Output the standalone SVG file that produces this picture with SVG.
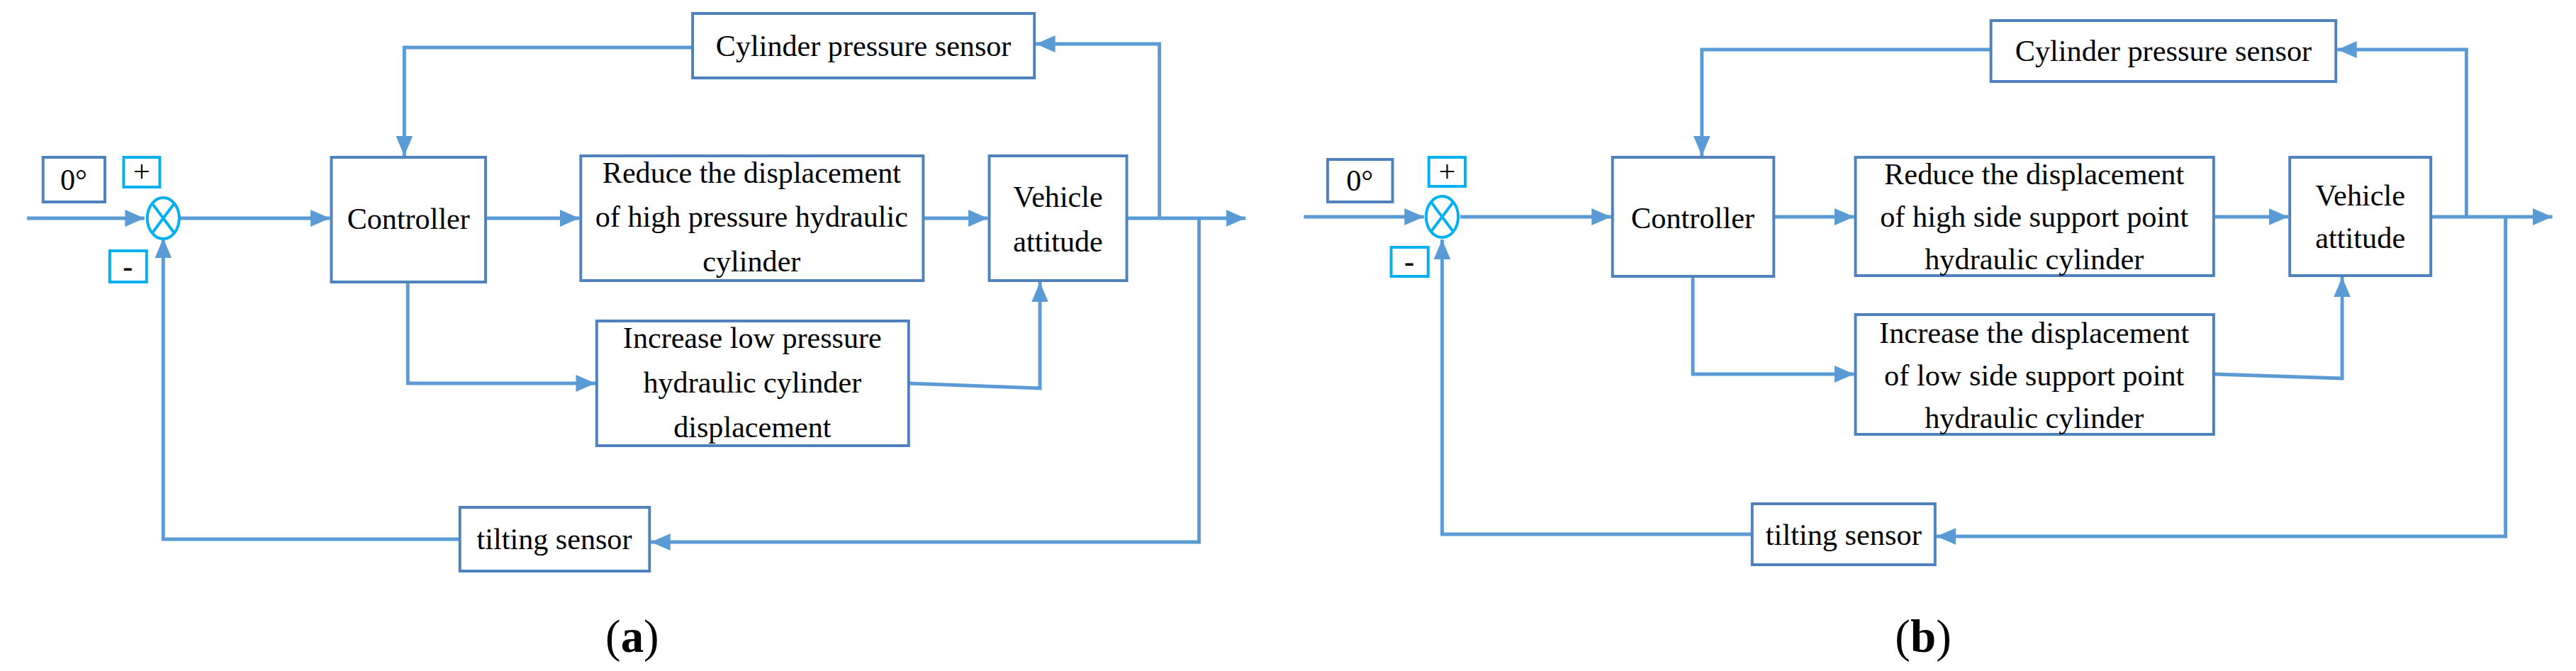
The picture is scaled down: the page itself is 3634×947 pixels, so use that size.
<svg xmlns="http://www.w3.org/2000/svg" width="3634" height="947" viewBox="0 0 3634 947">
<defs>
<marker id="ar" markerUnits="userSpaceOnUse" markerWidth="30" markerHeight="30" refX="28" refY="15" orient="auto"><path d="M0,3 L28,15 L0,27 Z" fill="#5B9BD5"/></marker>
<style>
.b{fill:#fff;stroke:#4F81BD;stroke-width:4}
.s{fill:#fff;stroke:#00B0F0;stroke-width:4}
.t{font-family:"Liberation Serif",serif;font-size:43px;fill:#000;text-anchor:middle}
.c{fill:none;stroke:#5B9BD5;stroke-width:5}
.l{font-family:"Liberation Serif",serif;font-size:66px;fill:#000;text-anchor:middle}
</style>
</defs>
<g id="connectors" class="c">
<g transform="matrix(0.98 0 0 1 0 0)">
<path d="M39,308 H208" marker-end="url(#ar)"/>
<path d="M257,308 H475" marker-end="url(#ar)"/>
<path d="M699,308 H834" marker-end="url(#ar)"/>
<path d="M1329,308 H1422" marker-end="url(#ar)"/>
<path d="M1622,308 H1793" marker-end="url(#ar)"/>
<path d="M1669,308 V62 H1491" marker-end="url(#ar)"/>
<path d="M997,67 H582 V220" marker-end="url(#ar)"/>
<path d="M587,398 V541 H857" marker-end="url(#ar)"/>
<path d="M1308,541 L1497,548 V398" marker-end="url(#ar)"/>
<path d="M1726,308 V765 H937" marker-end="url(#ar)"/>
<path d="M662,761 H235 V336" marker-end="url(#ar)"/>
</g>
<g transform="matrix(0.985 0 0 1 27 0)">
<path d="M1840,306 H2012" marker-end="url(#ar)"/>
<path d="M2064,306 H2280" marker-end="url(#ar)"/>
<path d="M2513,306 H2628" marker-end="url(#ar)"/>
<path d="M3143,306 H3250" marker-end="url(#ar)"/>
<path d="M3454,306 H3628" marker-end="url(#ar)"/>
<path d="M3505,306 V70 H3320" marker-end="url(#ar)"/>
<path d="M2824,70 H2410 V220" marker-end="url(#ar)"/>
<path d="M2397,390 V528 H2628" marker-end="url(#ar)"/>
<path d="M3143,528 L3327,534 V391" marker-end="url(#ar)"/>
<path d="M3561,306 V757 H2746" marker-end="url(#ar)"/>
<path d="M2482,754 H2038 V338" marker-end="url(#ar)"/>
</g>
</g>
<g id="panel_a" transform="matrix(0.98 0 0 1 0 0)">
<g id="a_ref"><rect class="b" x="62" y="222" width="89" height="63"/><text class="t" x="106" y="268">0°</text></g>
<g id="a_plus"><rect class="s" x="178" y="222" width="52" height="42"/><text class="t" x="204" y="256">+</text></g>
<g id="a_minus"><rect class="s" x="158" y="354" width="53" height="44"/><text class="t" x="184" y="390" font-weight="bold">-</text></g>
<g id="a_sum"><ellipse cx="235" cy="308" rx="23" ry="29" fill="#fff" stroke="#00B0F0" stroke-width="4"/><path d="M219,287 L251,329 M251,287 L219,329" stroke="#00B0F0" stroke-width="4"/></g>
<g id="a_ctrl"><rect class="b" x="477" y="222" width="222" height="176"/><text class="t" x="588" y="323">Controller</text></g>
<g id="a_reduce"><rect class="b" x="836" y="220" width="493" height="176"/><text class="t" x="1082" y="258">Reduce the displacement</text><text class="t" x="1082" y="320">of high pressure hydraulic</text><text class="t" x="1082" y="383">cylinder</text></g>
<g id="a_vehicle"><rect class="b" x="1424" y="220" width="198" height="176"/><text class="t" x="1523" y="292">Vehicle</text><text class="t" x="1523" y="355">attitude</text></g>
<g id="a_cps"><rect class="b" x="997" y="19" width="492" height="91"/><text class="t" x="1243" y="79">Cylinder pressure sensor</text></g>
<g id="a_increase"><rect class="b" x="859" y="453" width="449" height="176"/><text class="t" x="1083" y="491">Increase low pressure</text><text class="t" x="1083" y="554">hydraulic cylinder</text><text class="t" x="1083" y="617">displacement</text></g>
<g id="a_tilt"><rect class="b" x="662" y="716" width="273" height="90"/><text class="t" x="798" y="775">tilting sensor</text></g>
<text class="l" x="910" y="920">(<tspan font-weight="bold">a</tspan>)</text>
</g>
<g id="panel_b" transform="matrix(0.985 0 0 1 27 0)">
<g id="b_ref"><rect class="b" x="1874" y="225" width="93" height="60"/><text class="t" x="1920" y="269">0°</text></g>
<g id="b_plus"><rect class="s" x="2019" y="222" width="52" height="41"/><text class="t" x="2045" y="256">+</text></g>
<g id="b_minus"><rect class="s" x="1965" y="349" width="53" height="41"/><text class="t" x="1991" y="383" font-weight="bold">-</text></g>
<g id="b_sum"><ellipse cx="2038" cy="306" rx="23" ry="29" fill="#fff" stroke="#00B0F0" stroke-width="4"/><path d="M2022,285 L2054,327 M2054,285 L2022,327" stroke="#00B0F0" stroke-width="4"/></g>
<g id="b_ctrl"><rect class="b" x="2282" y="222" width="231" height="168"/><text class="t" x="2397" y="322">Controller</text></g>
<g id="b_reduce"><rect class="b" x="2630" y="222" width="513" height="167"/><text class="t" x="2886" y="260">Reduce the displacement</text><text class="t" x="2886" y="320">of high side support point</text><text class="t" x="2886" y="380">hydraulic cylinder</text></g>
<g id="b_vehicle"><rect class="b" x="3252" y="222" width="202" height="167"/><text class="t" x="3353" y="290">Vehicle</text><text class="t" x="3353" y="350">attitude</text></g>
<g id="b_cps"><rect class="b" x="2824" y="29" width="494" height="86"/><text class="t" x="3071" y="86">Cylinder pressure sensor</text></g>
<g id="b_increase"><rect class="b" x="2630" y="444" width="513" height="169"/><text class="t" x="2886" y="484">Increase the displacement</text><text class="t" x="2886" y="544">of low side support point</text><text class="t" x="2886" y="604">hydraulic cylinder</text></g>
<g id="b_tilt"><rect class="b" x="2482" y="711" width="262" height="86"/><text class="t" x="2613" y="769">tilting sensor</text></g>
<text class="l" x="2727" y="920">(<tspan font-weight="bold">b</tspan>)</text>
</g>
</svg>
